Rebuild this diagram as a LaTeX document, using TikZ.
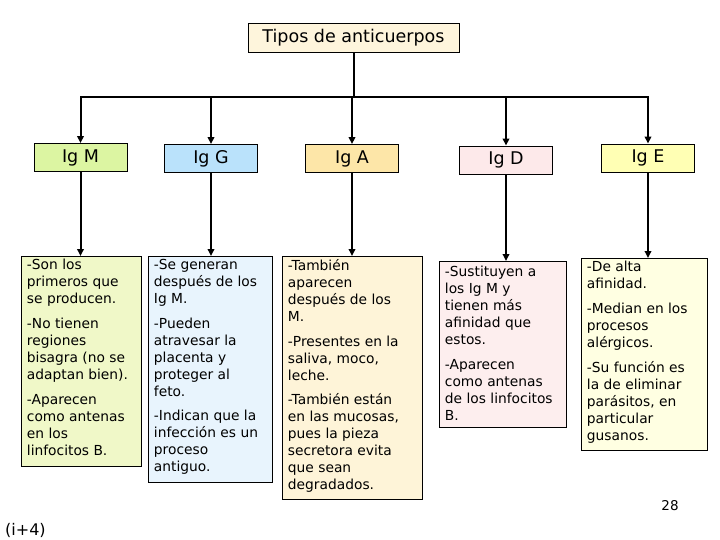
\documentclass[tikz,border=0pt]{standalone}
\usepackage{fontspec}
\setmainfont{DejaVu Sans}
\usetikzlibrary{arrows.meta}
\definecolor{cTitle}{HTML}{FEF5DC}
\definecolor{hMc}{HTML}{DCF5A2}
\definecolor{dMc}{HTML}{F0F8C8}
\definecolor{hGc}{HTML}{BAE2FB}
\definecolor{dGc}{HTML}{E8F4FD}
\definecolor{hAc}{HTML}{FDE6A8}
\definecolor{dAc}{HTML}{FEF4D8}
\definecolor{hDc}{HTML}{FDE9EA}
\definecolor{dDc}{HTML}{FDEEEE}
\definecolor{hEc}{HTML}{FFFFB4}
\definecolor{dEc}{HTML}{FFFFE2}
\newcommand\dtext[3]{\parbox[t][#2][t]{#1}{\raggedright\fontsize{13.8}{17}\selectfont\setlength\parskip{7.6pt}#3}}
\tikzset{
  titlebox/.style={draw=black, line width=0.9pt, fill=cTitle, minimum width=211pt, minimum height=29pt, inner sep=0pt, font=\fontsize{17.5}{19}\selectfont},
  headbox/.style={draw=black, line width=0.9pt, minimum width=93pt, minimum height=28pt, inner sep=0pt, font=\fontsize{17.5}{19}\selectfont},
  descbox/.style={draw=black, line width=0.9pt, anchor=north west, inner xsep=5.5pt, inner ysep=3pt},
  conn/.style={line width=2pt, -{Triangle[width=6.5pt,length=7pt]}},
  plainconn/.style={line width=2pt}
}
\begin{document}
\begin{tikzpicture}[x=1pt,y=-1pt]
\useasboundingbox (0,0) rectangle (720,540);
\node[titlebox] (title) at (353.5,37.5) {Tipos de anticuerpos};
\node[headbox, fill=hMc] (hM) at (80.5,157.5) {Ig M};
\node[headbox, fill=hGc] (hG) at (211,158.5) {Ig G};
\node[headbox, fill=hAc] (hA) at (352,158.5) {Ig A};
\node[headbox, fill=hDc] (hD) at (506,160) {Ig D};
\node[headbox, fill=hEc] (hE) at (648,158) {Ig E};
\coordinate (bus) at (353.5,97.5);
\draw[plainconn] (title.south) -- (bus);
\draw[conn] (bus) -| (hM.north);
\draw[conn] (bus) -| (hG.north);
\draw[conn] (bus) -| (hA.north);
\draw[conn] (bus) -| (hD.north);
\draw[conn] (bus) -| (hE.north);
\node[descbox, fill=dMc] (dM) at (21,256) {\dtext{109pt}{204pt}{-Son los\\primeros que\\se producen.\par -No tienen\\regiones\\bisagra (no se\\adaptan bien).\par -Aparecen\\como antenas\\en los\\linfocitos B.}};
\node[descbox, fill=dGc] (dG) at (148,256) {\dtext{113pt}{220pt}{-Se generan\\después de los\\Ig M.\par -Pueden\\atravesar la\\placenta y\\proteger al\\feto.\par -Indican que la\\infección es un\\proceso\\antiguo.}};
\node[descbox, fill=dAc] (dA) at (282,256) {\dtext{129pt}{237pt}{-También\\aparecen\\después de los\\M.\par -Presentes en la\\saliva, moco,\\leche.\par -También están\\en las mucosas,\\pues la pieza\\secretora evita\\que sean\\degradados.}};
\node[descbox, fill=dDc, inner ysep=5pt] (dD) at (439,261) {\dtext{116pt}{156pt}{-Sustituyen a\\los Ig M y\\tienen más\\afinidad que\\estos.\par -Aparecen\\como antenas\\de los linfocitos\\B.}};
\node[descbox, fill=dEc] (dE) at (581,258) {\dtext{115pt}{186pt}{-De alta\\afinidad.\par -Median en los\\procesos\\alérgicos.\par -Su función es\\la de eliminar\\parásitos, en\\particular\\gusanos.}};
\draw[conn] (hM.south) -- (hM.south |- dM.north);
\draw[conn] (hG.south) -- (hG.south |- dG.north);
\draw[conn] (hA.south) -- (hA.south |- dA.north);
\draw[conn] (hD.south) -- (hD.south |- dD.north);
\draw[conn] (hE.south) -- (hE.south |- dE.north);
\node[font=\fontsize{13.5}{15}\selectfont] (page) at (670,506) {28};
\node[font=\fontsize{16}{18}\selectfont, anchor=west, inner sep=0pt] (foot) at (5,530) {(i+4)};
\end{tikzpicture}
\end{document}
